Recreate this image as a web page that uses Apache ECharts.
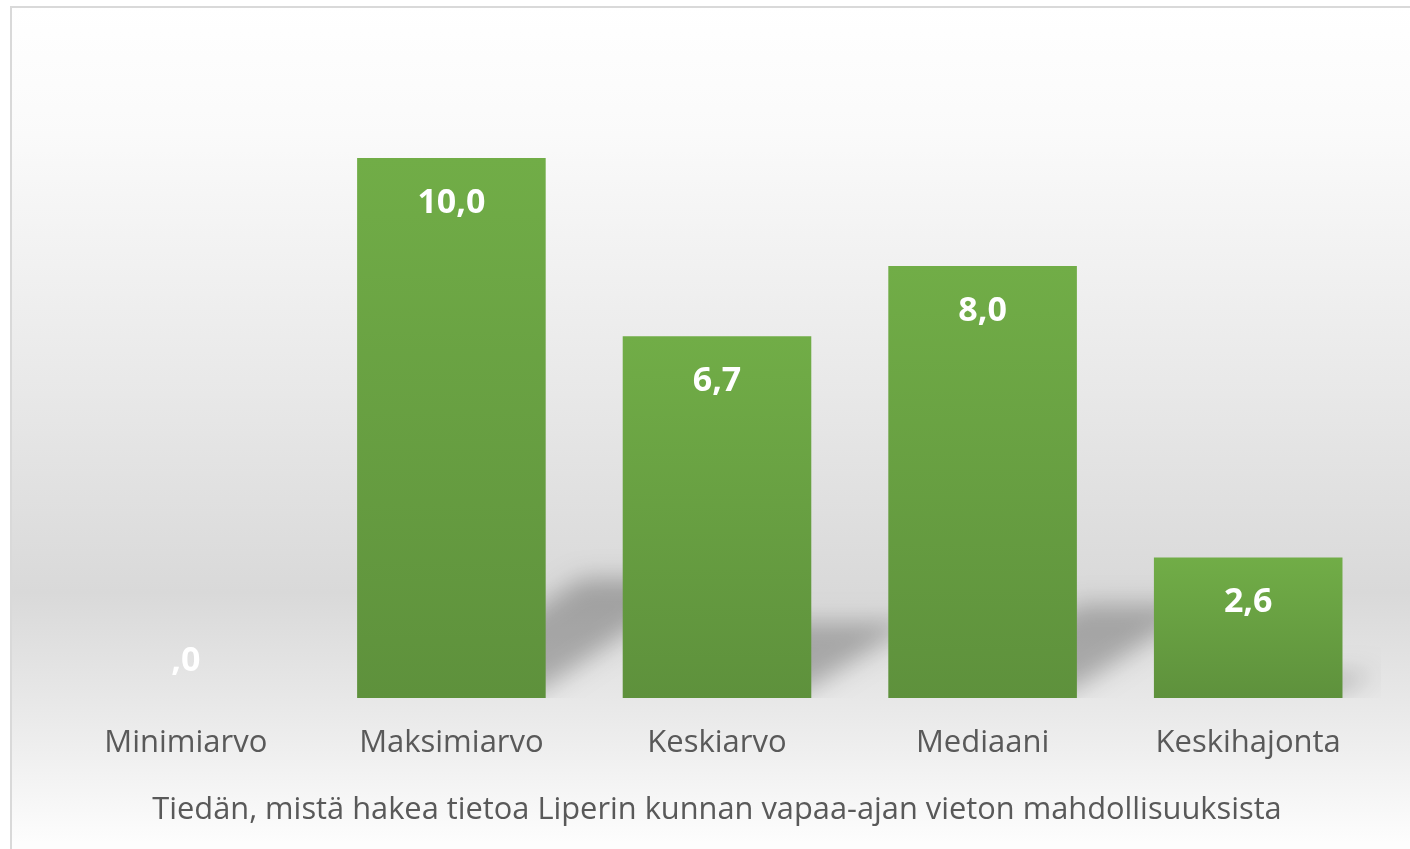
<!DOCTYPE html>
<html>
<head>
<meta charset="utf-8">
<title>Tiedän, mistä hakea tietoa</title>
<script src="https://cdn.jsdelivr.net/npm/echarts@6/dist/echarts.min.js"></script>
<style>
  html, body { margin: 0; padding: 0; background: #fff; }
  #main { width: 1410px; height: 849px; }
</style>
</head>
<body>
<div id="main"></div>
<script>
// kategoriat ja arvot
const categories = ['Minimiarvo', 'Maksimiarvo', 'Keskiarvo', 'Mediaani', 'Keskihajonta']
const values = [0, 10.0, 6.7, 8.0, 2.6]
const axisTitle = 'Tiedän, mistä hakea tietoa Liperin kunnan vapaa-ajan vieton mahdollisuuksista'

// SPSS-tyylinen muotoilu: pilkku desimaalina, ei etunollaa
const fmt = (v) => {
  let s = v.toFixed(1).replace('.', ',')
  if (s.startsWith('0,')) s = s.slice(1)
  return s
}

// varjo piirretään ruudun ulkopuolelle ja siirretään takaisin shadowOffsetilla,
// jolloin näkyviin jää vain sumea varjo
const OFF = 3000

const chart = echarts.init(document.querySelector('#main'))

const option = {
  animation: false,
  textStyle: { fontFamily: 'Open Sans' },
  // taustan liukuväri ja kehys
  graphic: [
    {
      type: 'rect',
      z: -10,
      silent: true,
      shape: { x: 11, y: 7, width: 1420, height: 860 },
      style: {
        stroke: '#d9d9d9',
        lineWidth: 2,
        fill: {
          type: 'linear',
          x: 0, y: 0, x2: 0, y2: 1,
          colorStops: [
            { offset: 0, color: '#ffffff' },
            { offset: 0.15, color: '#fafafa' },
            { offset: 0.45, color: '#e8e8e8' },
            { offset: 0.68, color: '#d9d9d9' },
            { offset: 0.85, color: '#ededed' },
            { offset: 0.97, color: '#fdfdfd' }
          ]
        }
      }
    }
  ],
  grid: {
    left: 53,
    right: 29,
    top: 50,
    bottom: 151
  },
  xAxis: {
    type: 'category',
    data: categories,
    axisLine: { show: false },
    axisTick: { show: false },
    axisLabel: {
      color: '#595959',
      fontSize: 31,
      margin: 30
    },
    name: axisTitle,
    nameLocation: 'middle',
    nameGap: 97,
    nameTextStyle: {
      color: '#595959',
      fontSize: 30.8
    }
  },
  yAxis: {
    type: 'value',
    min: 0,
    max: 12,
    show: false
  },
  series: [
    {
      // perspektiivivarjo pylväiden takana
      type: 'custom',
      clip: true,
      z: 1,
      silent: true,
      data: values.map((v, i) => [i, v]),
      renderItem: (params, api) => {
        const i = api.value(0)
        const v = api.value(1)
        const base = api.coord([i, 0])
        const top = api.coord([i, v])
        const bandW = api.size([1, 0])[0]
        const w = bandW * 0.71
        const x0 = base[0] - w / 2
        const x1 = base[0] + w / 2
        const h = base[1] - top[1]
        if (h <= 0) return null
        const sh = h * 0.24
        const dx = sh * 1.3
        const pts = [
          [x0 + w * 0.3, base[1] - 6],
          [x1 - 8, base[1] - 6],
          [x1 + dx - 8, base[1] - sh + 10],
          [x0 + w * 0.3 + dx, base[1] - sh + 10]
        ]
        return {
          type: 'polygon',
          shape: {
            points: pts.map(p => [p[0] - OFF, p[1]])
          },
          style: {
            fill: '#000',
            shadowBlur: 24,
            shadowOffsetX: OFF,
            shadowColor: 'rgba(0,0,0,0.26)'
          }
        }
      }
    },
    {
      type: 'bar',
      z: 2,
      barCategoryGap: '29%',
      data: values.map((v) => {
        if (v === 0) {
          return { value: v, label: { position: 'top', distance: 20 } }
        }
        return v
      }),
      itemStyle: {
        color: {
          type: 'linear',
          x: 0, y: 0, x2: 0, y2: 1,
          colorStops: [
            { offset: 0, color: '#71ad47' },
            { offset: 1, color: '#5e913c' }
          ]
        }
      },
      label: {
        show: true,
        position: 'insideTop',
        distance: 28,
        color: '#ffffff',
        fontSize: 34,
        fontWeight: 'bold',
        formatter: (p) => fmt(p.value)
      }
    }
  ]
}

chart.setOption(option)
</script>
</body>
</html>
